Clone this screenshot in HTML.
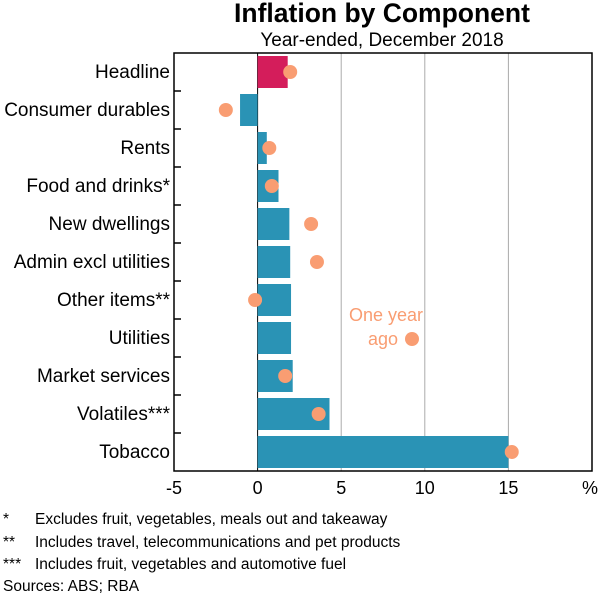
<!DOCTYPE html>
<html><head><meta charset="utf-8"><style>
body{margin:0;background:#fff;width:600px;height:595px;overflow:hidden;font-family:"Liberation Sans",sans-serif}
svg text{font-family:"Liberation Sans",sans-serif}
</style></head><body>
<svg id="c" width="600" height="595" xmlns="http://www.w3.org/2000/svg">
<text x="382" y="22" text-anchor="middle" font-size="26.5" font-weight="bold">Inflation by Component</text>
<text x="382" y="46" text-anchor="middle" font-size="19">Year-ended, December 2018</text>
<g id="grid"></g><g id="bars"></g><g id="dots"></g>
<rect x="174" y="53" width="418" height="418" fill="none" stroke="#000" stroke-width="1.5"/>
<g id="labels"></g><g id="ticks"></g>
<text x="423" y="321" text-anchor="end" font-size="18" fill="#f99d72">One year</text>
<text x="398" y="345" text-anchor="end" font-size="18" fill="#f99d72">ago</text>
<circle cx="412" cy="339" r="7" fill="#f99d72"/>
<text x="590" y="494" text-anchor="middle" font-size="18">%</text>
<g font-size="15.5">
<text x="3" y="524">*</text><text x="35" y="524">Excludes fruit, vegetables, meals out and takeaway</text>
<text x="3" y="547">**</text><text x="35" y="547">Includes travel, telecommunications and pet products</text>
<text x="3" y="569">***</text><text x="35" y="569">Includes fruit, vegetables and automotive fuel</text>
<text x="3" y="591">Sources: ABS; RBA</text>
</g>
</svg>
<script>
const categories=["Headline","Consumer durables","Rents","Food and drinks*","New dwellings","Admin excl utilities","Other items**","Utilities","Market services","Volatiles***","Tobacco"];
const current=[1.8,-1.05,0.55,1.25,1.9,1.95,2.0,2.0,2.1,4.3,15.0];
const yearAgo=[1.95,-1.9,0.7,0.85,3.2,3.55,-0.15,null,1.65,3.65,15.2];
const xTicks=[-5,0,5,10,15];
const NS="http://www.w3.org/2000/svg";
const x=v=>174+(v+5)*(418/25);
const rowH=418/categories.length;
const yc=i=>53+rowH*(i+0.5);
function mk(t,a,p){const e=document.createElementNS(NS,t);for(const k in a)e.setAttribute(k,a[k]);document.getElementById(p).appendChild(e);return e;}
xTicks.forEach(t=>{
 if(t>-5){const l=mk('line',{x1:x(t),x2:x(t),y1:53,y2:471,stroke:t===0?'#000':'#aaa','stroke-width':1},'grid');
 
 }
 const tx=mk('text',{x:x(t),y:494,'text-anchor':'middle','font-size':18},'ticks');tx.textContent=t;
 
 
});
categories.forEach((c,i)=>{
 const v=current[i];
 const b=mk('rect',{x:Math.min(x(0),x(v)),y:yc(i)-16,width:Math.abs(x(v)-x(0)),height:32,fill:i===0?'#d41d5b':'#2a93b5'},'bars');
 
 
 if(yearAgo[i]!==null){const d=mk('circle',{cx:x(yearAgo[i]),cy:yc(i),r:7,fill:'#f99d72'},'dots');
 
 }
 const t=mk('text',{x:170,y:yc(i)+6,'text-anchor':'end','font-size':19},'labels');t.textContent=c;
 
 
 if(i>0){const tk=mk('line',{x1:174,x2:181,y1:53+rowH*i,y2:53+rowH*i,stroke:'#000','stroke-width':1.5},'ticks');
 
 }
});
</script>
</body></html>
